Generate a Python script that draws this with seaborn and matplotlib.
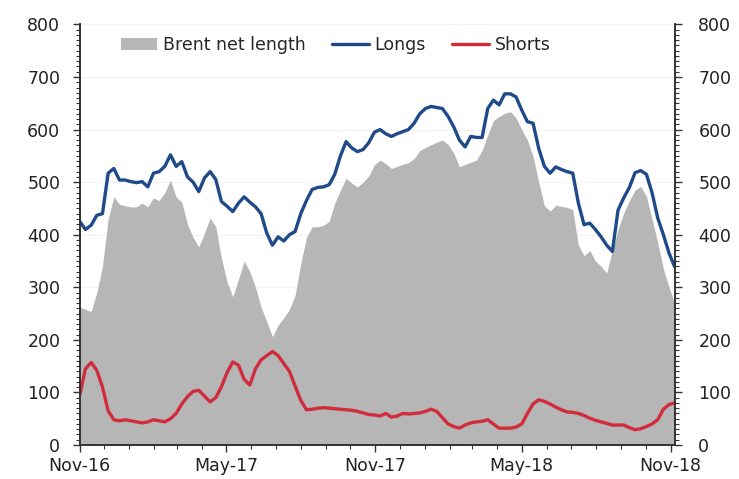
import numpy as np
import pandas as pd
import matplotlib
matplotlib.use("Agg")
import matplotlib.pyplot as plt
import matplotlib.dates as mdates
from matplotlib.ticker import MultipleLocator
import seaborn as sns

# Weekly positioning data, Nov-16 to Nov-18 (thousand lots)
longs = [425, 410, 418, 437, 440, 517, 526, 504, 504, 501, 499, 501, 491, 517, 520, 530,
         552, 530, 539, 510, 500, 482, 508, 520, 505, 463, 454, 444, 460, 472, 462, 453,
         440, 403, 380, 396, 388, 400, 406, 440, 465, 486, 490, 491, 495, 515, 550, 577,
         565, 558, 562, 575, 595, 600, 592, 587, 592, 596, 600, 612, 630, 640, 644, 642,
         640, 625, 605, 580, 567, 587, 585, 585, 640, 656, 647, 668, 668, 662, 637, 615,
         612, 564, 530, 517, 529, 524, 520, 517, 460, 419, 422, 410, 396, 380, 368, 447,
         470, 490, 518, 522, 515, 480, 432, 400, 365, 339]
shorts = [95, 145, 157, 142, 110, 65, 48, 46, 48, 46, 44, 42, 44, 48, 46, 44,
          50, 60, 78, 92, 102, 104, 93, 82, 90, 111, 138, 158, 152, 125, 114, 145,
          162, 170, 178, 170, 155, 140, 112, 85, 67, 68, 70, 71, 70, 69, 68, 67,
          66, 64, 61, 58, 57, 55, 60, 53, 55, 60, 59, 60, 61, 64, 68, 64,
          52, 40, 35, 32, 38, 42, 44, 45, 48, 40, 32, 32, 32, 34, 40, 60,
          78, 86, 83, 78, 72, 67, 63, 62, 60, 56, 51, 47, 44, 41, 38, 38,
          38, 33, 29, 31, 35, 40, 48, 68, 77, 80]
net_length = [262, 258, 254, 290, 340, 430, 472, 458, 455, 453, 453, 460, 453, 470, 465, 480,
              504, 472, 462, 420, 395, 377, 403, 432, 415, 355, 310, 282, 315, 350, 330, 300,
              262, 235, 206, 228, 242, 258, 285, 345, 395, 415, 415, 418, 425, 460, 485, 507,
              498, 491, 500, 512, 533, 542, 535, 526, 530, 534, 537, 545, 560, 566, 571, 576,
              580, 572, 555, 529, 534, 538, 542, 560, 590, 617, 625, 631, 634, 622, 600, 580,
              549, 500, 455, 445, 456, 454, 452, 448, 380, 360, 370, 350, 340, 327, 370, 410,
              441, 465, 485, 492, 473, 430, 385, 335, 300, 270]
dates = pd.date_range("2016-11-01", periods=len(longs), freq="7D")

df = pd.DataFrame({"date": dates, "Brent net length": net_length,
                   "Longs": longs, "Shorts": shorts})

sns.set_style("white")
plt.rcParams["font.family"] = ["DejaVu Sans"]
fs = 12.5

fig = plt.figure(figsize=(7.39, 4.79), dpi=100)
ax = fig.add_axes([0.108, 0.071, 0.805, 0.878])

ax.fill_between(df["date"], 0, df["Brent net length"], color="#b6b6b6",
                linewidth=0, label="Brent net length")
sns.lineplot(data=df, x="date", y="Longs", ax=ax, color="#1f4a8a", linewidth=2.4, label="Longs")
sns.lineplot(data=df, x="date", y="Shorts", ax=ax, color="#d12c3c", linewidth=2.4, label="Shorts")

ax.set_xlim(df["date"].iloc[0], df["date"].iloc[-1])
ax.set_ylim(0, 800)
ax.set_xlabel("")
ax.set_ylabel("")

ax.yaxis.set_major_locator(MultipleLocator(100))
ax.yaxis.set_minor_locator(MultipleLocator(10))
ax.xaxis.set_major_locator(mdates.MonthLocator(bymonth=[5, 11]))
ax.xaxis.set_minor_locator(mdates.MonthLocator())
ax.xaxis.set_major_formatter(mdates.DateFormatter("%b-%y"))
ax.grid(axis="y", color="#f2f2f2", linewidth=0.8)
ax.set_axisbelow(True)

ax2 = ax.twinx()
ax2.set_ylim(0, 800)
ax2.yaxis.set_major_locator(MultipleLocator(100))
ax2.yaxis.set_minor_locator(MultipleLocator(10))

for a in (ax, ax2):
    a.tick_params(which="major", direction="out", length=5, width=1, color="#333333",
                  labelsize=fs, labelcolor="#222222", pad=9)
    a.tick_params(which="minor", direction="out", length=3, width=0.8, color="#333333")
    for side in ("left", "right", "bottom"):
        a.spines[side].set_color("#333333")
        a.spines[side].set_linewidth(1.2)
    a.spines["top"].set_visible(False)
ax.tick_params(axis="y", which="both", left=True, right=False)
ax.tick_params(axis="x", which="both", bottom=True, pad=4)
ax2.tick_params(axis="y", which="both", right=True, pad=12)

ax.legend(loc="center", bbox_to_anchor=(0.43, 0.951), ncol=3, frameon=False,
          handlelength=2.1, handletextpad=0.35, columnspacing=1.5, fontsize=fs)

fig.savefig("out.png", dpi=100)
